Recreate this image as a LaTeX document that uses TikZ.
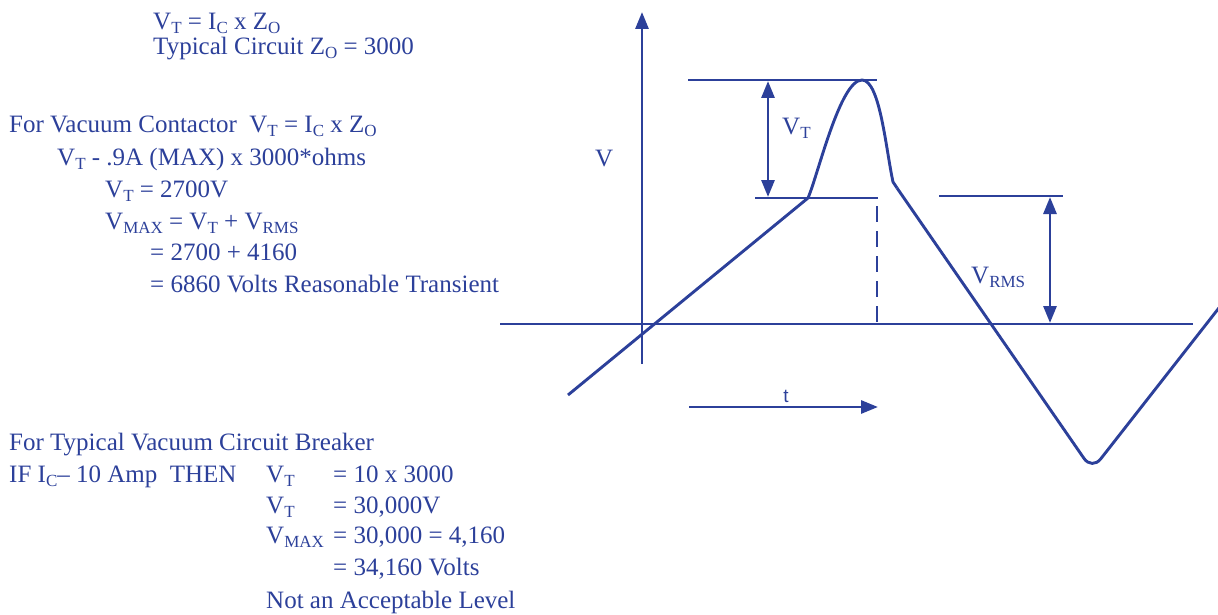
\documentclass[tikz,border=0pt]{standalone}
\usepackage{fontspec}
\setmainfont{Liberation Serif}
\newfontfamily\tsans{Liberation Sans}
\usetikzlibrary{arrows.meta}
\definecolor{ink}{RGB}{44,64,154}
\newcommand\lo[1]{\raisebox{-4pt}{\fontsize{17}{17}\selectfont #1}}
\tikzset{
  txt/.style={anchor=base west, inner sep=0pt, text=ink, font=\fontsize{25}{28}\selectfont},
  ln/.style={draw=ink, line width=2.9pt},
  dbl/.style={draw=ink, line width=2.9pt, {Triangle[length=17pt,width=13pt]}-{Triangle[length=17pt,width=13pt]}},
  sgl/.style={draw=ink, line width=2.9pt, -{Triangle[length=17pt,width=13pt]}},
}
\begin{document}
\begin{tikzpicture}[x=1pt,y=-1pt]
\useasboundingbox (0,0) rectangle (1218,615);
% ---------- left text ----------
\node[txt] (l1) at (153,30) {V\lo{T} = I\lo{C} x Z\lo{O}};
\node[txt] (l2) at (153,55) {Typical Circuit Z\lo{O} = 3000};
\node[txt] (l3) at (9,133) {For Vacuum Contactor\ \ V\lo{T} = I\lo{C} x Z\lo{O}};
\node[txt] (l4) at (57,165) {V\lo{T} - .9A (MAX) x 3000*ohms};
\node[txt] (l5) at (105,197) {V\lo{T} = 2700V};
\node[txt] (l6) at (105,229) {V\lo{MAX} = V\lo{T} + V\lo{RMS}};
\node[txt] (l7) at (150,260) {= 2700 + 4160};
\node[txt] (l8) at (150,292) {= 6860 Volts Reasonable Transient};
\node[txt] (b1) at (9,450) {For Typical Vacuum Circuit Breaker};
\node[txt] (b2) at (9,482) {IF I\lo{C}-- 10 Amp\ \ THEN};
\node[txt] (b2a) at (266,482) {V\lo{T}};
\node[txt] (b2b) at (333,482) {= 10 x 3000};
\node[txt] (b3a) at (266,513) {V\lo{T}};
\node[txt] (b3b) at (333,513) {= 30,000V};
\node[txt] (b4a) at (266,543) {V\lo{MAX}};
\node[txt] (b4b) at (333,543) {= 30,000 = 4,160};
\node[txt] (b5b) at (333,575) {= 34,160 Volts};
\node[txt] (b6) at (266,608) {Not an Acceptable Level};
% ---------- graph ----------
\coordinate (vb) at (642,364);
\coordinate (vt) at (642,12);
\coordinate (hl) at (500,324);
\coordinate (hr) at (1193,324);
\draw[sgl] (vb) -- (vt);
\draw[ln] (hl) -- (hr);
% top and lower lines
\coordinate (t1) at (688,80); \coordinate (t2) at (877,80);
\coordinate (m1) at (755,198); \coordinate (m2) at (878,198);
\coordinate (r1) at (939,196); \coordinate (r2) at (1063,196);
\draw[ln] (t1) -- (t2);
\draw[ln] (m1) -- (m2);
\draw[ln] (r1) -- (r2);
% VT arrow
\coordinate (a1) at (768,81); \coordinate (a2) at (768,197);
\draw[dbl] (a1) -- (a2);
% VRMS arrow
\coordinate (b1c) at (1050,197); \coordinate (b2c) at (1050,323);
\draw[dbl] (b1c) -- (b2c);
% dashed
\coordinate (d1) at (877,206); \coordinate (d2) at (877,324);
\draw[ln, dash pattern=on 16pt off 9pt] (d1) -- (d2);
% t arrow
\coordinate (ta) at (689,407); \coordinate (tb) at (878,407);
\draw[sgl] (ta) -- (tb);
% labels
\node[txt] (vlab) at (595,167) {V};
\node[txt] (vtlab) at (782,135) {V\lo{T}};
\node[txt] (vrlab) at (971,283) {V\lo{RMS}};
\node[anchor=base, inner sep=0pt, text=ink, font=\tsans\fontsize{19}{19}\selectfont] (tlab) at (786,402) {t};
% curve
\draw[ln, line join=round] (568,395) -- (808,198)
  .. controls (818,175) and (840,80) .. (862,80)
  .. controls (880,80) and (886,150) .. (893,182)
  -- (897,188);
\draw[ln, rounded corners=14pt] (897,188) -- (1092,470) -- (1222,304);
\end{tikzpicture}
\end{document}
